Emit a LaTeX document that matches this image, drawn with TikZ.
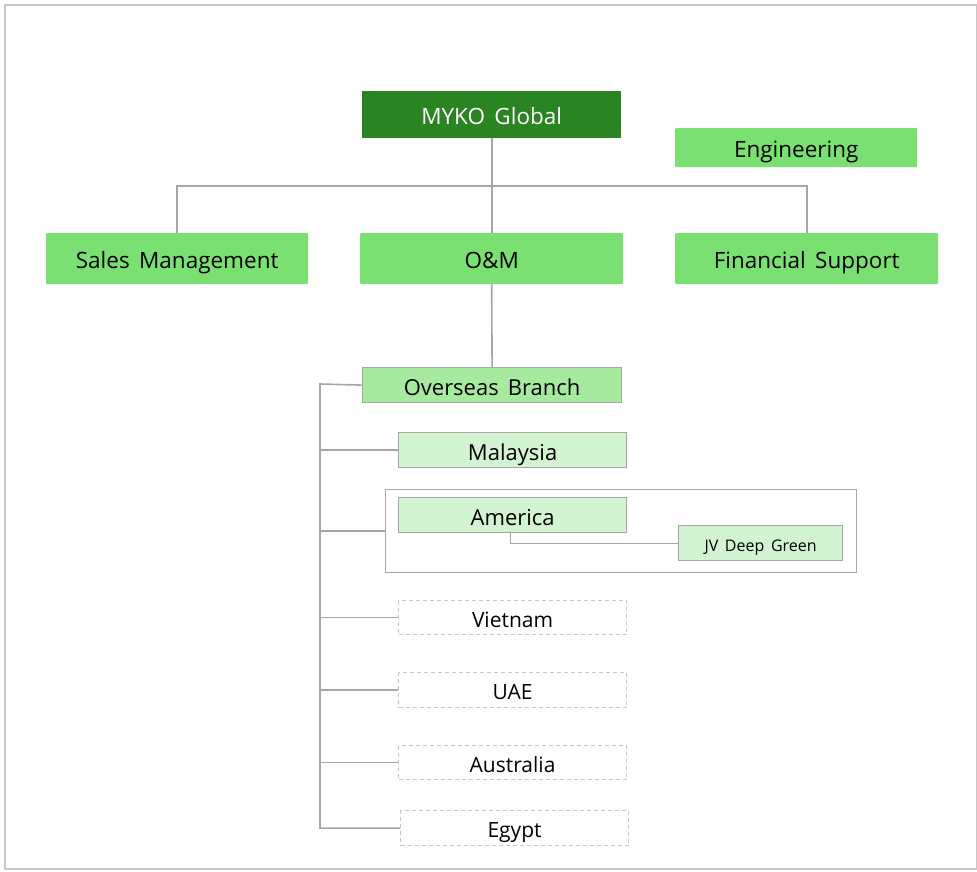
\documentclass[tikz,border=0pt]{standalone}
\usepackage{fontspec}
\setmainfont[WordSpace={1.6,0.5,0.5}]{Open Sans}
\definecolor{dgreen}{HTML}{2A8421}
\definecolor{mgreen}{HTML}{7AE072}
\definecolor{lgreen}{HTML}{A6EA9F}
\definecolor{pgreen}{HTML}{D3F4D0}
\definecolor{lnc}{HTML}{A6A6A6}
\definecolor{frm}{HTML}{C8C8C8}
\begin{document}
\begin{tikzpicture}[x=1pt,y=-1pt,
  conn/.style={draw=lnc,line width=1.6pt},
  box/.style={rectangle,anchor=north west,inner sep=0pt,text height=20.5pt,text depth=0pt,font=\fontsize{22.5}{26}\selectfont},
  topbox/.style={box,fill=mgreen,rounded corners=1pt},
  brbox/.style={box,fill=pgreen,draw=lnc,line width=1.2pt,font=\fontsize{22}{26}\selectfont},
  dbox/.style={box,draw=frm,dashed,dash pattern=on 4pt off 3pt,line width=1.1pt,text height=19pt,font=\fontsize{21}{24}\selectfont}]
\useasboundingbox (0,0) rectangle (977,872);
\draw[frm,line width=1.6pt] (5,5) rectangle (977,869);
% top
\node[box,fill=dgreen,text=white,minimum width=259pt,minimum height=47pt] (myko) at (362,91) {MYKO Global};
\node[topbox,minimum width=242pt,minimum height=39pt] (eng) at (675,128) {Engineering};
\node[topbox,minimum width=262pt,minimum height=51pt] (sales) at (46,233) {Sales Management};
\node[topbox,minimum width=263pt,minimum height=51pt] (om) at (360,233) {O\&M};
\node[topbox,minimum width=263pt,minimum height=51pt] (fin) at (675,233) {Financial Support};
% overseas
\node[brbox,fill=lgreen,minimum width=259pt,minimum height=35pt] (ovs) at (362,367) {Overseas Branch};
\node[brbox,minimum width=228pt,minimum height=35pt] (mal) at (398,432) {Malaysia};
\node[rectangle,anchor=north west,inner sep=0pt,draw=lnc,line width=1.2pt,minimum width=471pt,minimum height=83pt] (grp) at (385,489) {};
\node[brbox,minimum width=228pt,minimum height=35pt] (ame) at (398,497) {America};
\node[brbox,text height=16pt,font=\fontsize{16}{19}\selectfont,minimum width=164pt,minimum height=35pt] (jv) at (678,525) {JV Deep Green};
\node[dbox,minimum width=228pt,minimum height=34pt] (vie) at (398,600) {Vietnam};
\node[dbox,minimum width=228pt,minimum height=35pt] (uae) at (398,672) {UAE};
\node[dbox,minimum width=228pt,minimum height=34pt] (aus) at (398,745) {Australia};
\node[dbox,minimum width=228pt,minimum height=35pt] (egy) at (400,810) {Egypt};
% connectors
\coordinate (hb) at (491,186);
\coordinate (bus) at (320,384);
\draw[conn] (myko.south) -- (om.north);
\draw[conn] (sales.north) |- (hb) -| (fin.north);
\draw[conn] (om.south) -- (ovs.north);
\draw[conn] (ovs.west) -- (bus) |- (egy.west);
\draw[conn] (mal.west) -- (mal.west -| bus);
\draw[conn] (grp.west) -- (grp.west -| bus);
\draw[conn] (vie.west) -- (vie.west -| bus);
\draw[conn] (uae.west) -- (uae.west -| bus);
\draw[conn] (aus.west) -- (aus.west -| bus);
\draw[conn,line width=1.2pt] ([xshift=-2pt]ame.south) |- (jv.west);
\end{tikzpicture}
\end{document}
